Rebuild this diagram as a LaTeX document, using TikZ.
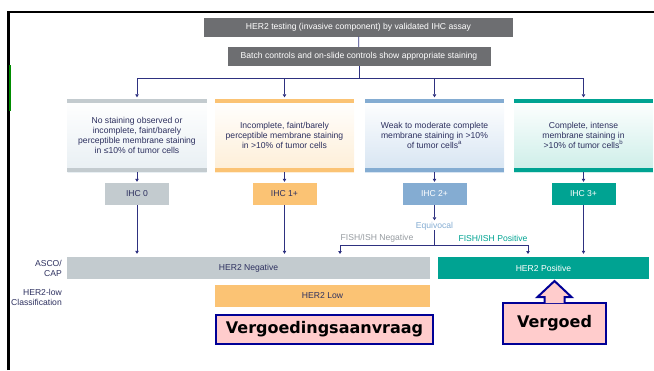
\documentclass[tikz,border=0pt]{standalone}
\usepackage{fontspec}
\setmainfont{Liberation Sans}
\newfontfamily\notefont{DejaVu Sans}
\usepackage{tikz}
\usetikzlibrary{
    positioning,
    arrows.meta,
    calc
}
\definecolor{headGray}{RGB}{109,110,113}
\definecolor{lineNavy}{RGB}{46,49,128}
\definecolor{textNavy}{RGB}{45,48,95}
\definecolor{ihcGray}{RGB}{195,203,207}
\definecolor{ihcOrange}{RGB}{251,195,116}
\definecolor{ihcBlue}{RGB}{132,172,210}
\definecolor{ihcTeal}{RGB}{0,163,146}
\definecolor{paleGray}{RGB}{232,239,243}
\definecolor{paleOrange}{RGB}{254,238,214}
\definecolor{paleBlue}{RGB}{214,228,242}
\definecolor{paleTeal}{RGB}{204,238,232}
\definecolor{notePink}{RGB}{255,204,204}
\definecolor{noteBlue}{RGB}{0,0,150}
\definecolor{fishGray}{RGB}{150,155,160}

\begin{document}
\begin{tikzpicture}[x=1pt, y=-1pt, >={Triangle[length=3pt,width=3.5pt]},
        every node/.style={font=\fontsize{8.6}{10}\selectfont, text=textNavy, inner sep=0pt},
        headbox/.style={fill=headGray, text=white, minimum height=19pt},
        critbox/.style={minimum width=139pt, minimum height=73pt, align=center},
        ihcbox/.style={minimum width=64pt, minimum height=22pt},
        bar/.style={minimum height=22pt},
        link/.style={->, draw=lineNavy, line width=0.8pt},
        note/.style={fill=notePink, draw=noteBlue, line width=2pt,
            font=\notefont\bfseries\fontsize{16}{18}\selectfont, text=black}]
        \useasboundingbox (0,0) rectangle (654,370);

        % Frame
        \draw[line width=2.8pt] (8.5,370) -- (8.5,12) -- (654,12);
        \draw[green!55!black, line width=1.5pt] (9.8,65) -- (9.8,111);

        % Testing
        \node[headbox, minimum width=309pt] (test) at (358.5,27) {HER2 testing (invasive component) by validated IHC assay};
        \node[headbox, minimum width=263pt] (batch) at (359,56.5) {Batch controls and on-slide controls show appropriate staining};
        \coordinate (hub) at (359,78);
        \draw[lineNavy, line width=0.8pt] (test) -- (batch);
        \draw[lineNavy, line width=0.8pt] (batch) -- (hub);

        % Staining criteria
        \node[critbox, top color=white, bottom color=paleGray] (c0) at (137,135.5)
            {No staining observed or\\incomplete, faint/barely\\perceptible membrane staining\\in ≤10\% of tumor cells};
        \node[critbox, top color=white, bottom color=paleOrange] (c1) at (284.5,135.5)
            {Incomplete, faint/barely\\perceptible membrane staining\\in >10\% of tumor cells};
        \node[critbox, top color=white, bottom color=paleBlue] (c2) at (434.5,135.5)
            {Weak to moderate complete\\membrane staining in >10\%\\of tumor cells\textsuperscript{a}};
        \node[critbox, top color=white, bottom color=paleTeal] (c3) at (583.5,135.5)
            {Complete, intense\\membrane staining in\\>10\% of tumor cells\textsuperscript{b}};
        \foreach \n/\c in {c0/ihcGray, c1/ihcOrange, c2/ihcBlue, c3/ihcTeal} {
            \fill[\c] (\n.north west) rectangle ([yshift=-4pt]\n.north east);
            \fill[\c] (\n.south west) rectangle ([yshift=4pt]\n.south east);
            \draw[link] (hub) -| ([yshift=1.5pt]\n.north);
        }

        % Scores
        \node[ihcbox, fill=ihcGray] (i0) at (137,194) {IHC 0};
        \node[ihcbox, fill=ihcOrange] (i1) at (284.5,194) {IHC 1+};
        \node[ihcbox, fill=ihcBlue, text=white] (i2) at (434.5,194) {IHC 2+};
        \node[ihcbox, fill=ihcTeal, text=white] (i3) at (583.5,194) {IHC 3+};
        \foreach \n in {0,...,3}
            \draw[link, shorten >=1pt] (c\n) -- (i\n);

        % Results
        \node[bar, fill=ihcGray, minimum width=363pt] (neg) at (248.5,268) {HER2 Negative};
        \node[bar, fill=ihcOrange, minimum width=215pt] (low) at (322.5,296) {HER2 Low};
        \node[bar, fill=ihcTeal, text=white, minimum width=211pt] (pos) at (543.5,268) {HER2 Positive};
        \node[anchor=east, align=right] (asco) at (62,268) {ASCO/\\CAP};
        \node[anchor=east, align=right] (lowlab) at (62,297) {HER2-low\\Classification};

        \draw[link, shorten >=3pt] (i0) -- (i0 |- neg.north);
        \draw[link, shorten >=3pt] (i1) -- (i1 |- neg.north);
        \draw[link, shorten >=3pt] (i3) -- (i3 |- pos.north);

        % Equivocal
        \node[text=ihcBlue] (equiv) at (434.5,226) {Equivocal};
        \node[text=fishGray] (fneg) at (377,238) {FISH/ISH Negative};
        \node[text=ihcTeal] (fpos) at (493,238) {FISH/ISH Positive};
        \coordinate (fork) at (434.5,245);
        \coordinate (toneg) at (340,254);
        \coordinate (topos) at (528,254);
        \draw[link, shorten >=1.5pt] (i2) -- (equiv);
        \draw[lineNavy, line width=1.6pt] (equiv) -- (fork);
        \draw[link] (fork) -| (toneg);
        \draw[link] (fork) -| (topos);

        % Notes
        \node[note, minimum width=217pt, minimum height=29pt] (claim) at (324.5,329.5) {Vergoedingsaanvraag};
        \node[note, minimum width=103pt, minimum height=41pt] (paid) at (554.5,323.5) {Vergoed};
        \filldraw[fill=notePink, draw=noteBlue, line width=2pt]
            ($(paid.north)+(-10,1)$) -- ($(paid.north)+(-10,-5)$) -- ($(paid.north)+(-17,-5)$)
            -- ($(paid.north)+(0,-21)$) -- ($(paid.north)+(17,-5)$) -- ($(paid.north)+(10,-5)$)
            -- ($(paid.north)+(10,1)$);
    \end{tikzpicture}
\end{document}
